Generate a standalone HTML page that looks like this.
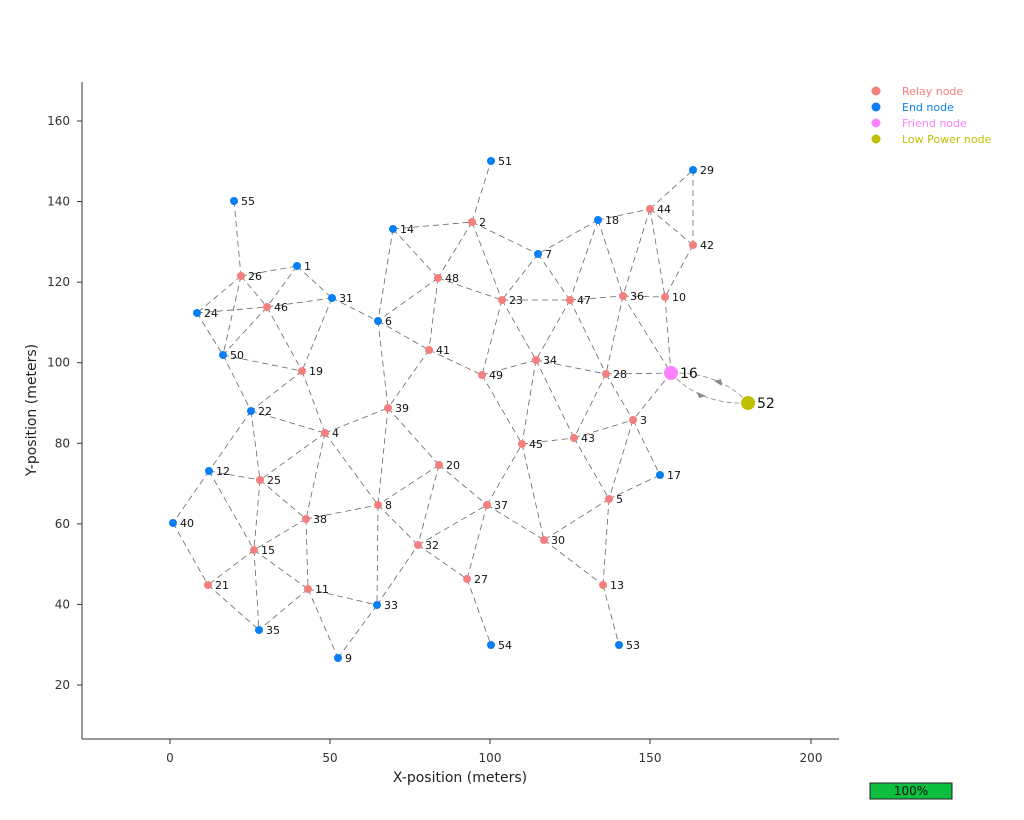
<!DOCTYPE html>
<html><head><meta charset="utf-8"><style>body{margin:0;background:#fff}svg{display:block}text{font-family:"DejaVu Sans","Liberation Sans",sans-serif}</style></head>
<body>
<svg id="s" width="1024" height="820" xmlns="http://www.w3.org/2000/svg">
<g stroke="#333" stroke-width="1" fill="none">
<line x1="82" y1="82" x2="82" y2="739"/><line x1="82" y1="739" x2="839" y2="739"/>
</g>
<g id="ticks" stroke="#333"></g>
<g id="tl" font-size="12" fill="#333"></g>
<text x="460" y="782" font-size="14" text-anchor="middle" fill="#222">X-position (meters)</text>
<text transform="translate(36,410) rotate(-90)" font-size="14" text-anchor="middle" fill="#222">Y-position (meters)</text>
<g id="edges" stroke="#666" stroke-width="0.8" stroke-dasharray="6,4" fill="none"></g>
<g stroke="#888" stroke-width="0.8" stroke-dasharray="5,3" fill="none">
<path d="M671,373 Q700,405 748,403"/><path d="M748,403 Q720,372 671,373"/>
</g>
<polygon points="706,396 697,392 699,398" fill="#888"/><polygon points="714,381 722,386 721,379" fill="#888"/>
<g id="nodes"></g>
<g font-size="11">
<circle cx="876" cy="91" r="4.5" fill="#f47f7f"/><text x="902" y="95" fill="#f47f7f">Relay node</text>
<circle cx="876" cy="107" r="4.5" fill="#0a7ff5"/><text x="902" y="111" fill="#0a7ff5">End node</text>
<circle cx="876" cy="123" r="4.5" fill="#ff80ff"/><text x="902" y="127" fill="#ff80ff">Friend node</text>
<circle cx="876" cy="139" r="4.5" fill="#bfbf00"/><text x="902" y="143" fill="#bfbf00">Low Power node</text>
</g>
<rect x="870" y="783" width="82" height="16" fill="#0dbf3f" stroke="#222"/>
<text x="911" y="795" font-size="12" text-anchor="middle" fill="#111">100%</text>
</svg>
<script>
const N={55:[234,201,'b'],1:[297,266,'b'],26:[241,276,'r'],46:[267,307,'r'],31:[332,298,'b'],24:[197,313,'b'],50:[223,355,'b'],19:[302,371,'r'],6:[378,321,'b'],14:[393,229,'b'],2:[472,222,'r'],51:[491,161,'b'],48:[438,278,'r'],41:[429,350,'r'],23:[502,300,'r'],7:[538,254,'b'],18:[598,220,'b'],44:[650,209,'r'],29:[693,170,'b'],42:[693,245,'r'],47:[570,300,'r'],36:[623,296,'r'],10:[665,297,'r'],49:[482,375,'r'],34:[536,360,'r'],28:[606,374,'r'],16:[671,373,'f'],52:[748,403,'l'],22:[251,411,'b'],4:[325,433,'r'],39:[388,408,'r'],3:[633,420,'r'],43:[574,438,'r'],45:[522,444,'r'],17:[660,475,'b'],12:[209,471,'b'],25:[260,480,'r'],20:[439,465,'r'],5:[609,499,'r'],40:[173,523,'b'],38:[306,519,'r'],8:[378,505,'r'],37:[487,505,'r'],30:[544,540,'r'],15:[254,550,'r'],32:[418,545,'r'],27:[467,579,'r'],13:[603,585,'r'],21:[208,585,'r'],11:[308,589,'r'],33:[377,605,'b'],35:[259,630,'b'],54:[491,645,'b'],53:[619,645,'b'],9:[338,658,'b']};
const E="55-26 26-1 26-24 26-50 26-46 1-46 1-31 24-46 24-50 46-31 46-50 46-19 31-19 31-6 50-19 50-22 19-22 19-4 14-2 14-6 14-48 2-51 2-48 2-7 2-23 48-6 48-23 48-41 6-41 6-39 41-39 41-49 18-7 18-44 18-47 18-36 44-29 44-36 44-10 44-42 29-42 42-10 7-23 7-47 23-47 47-36 36-10 23-49 23-34 47-34 47-28 36-28 36-16 10-16 49-34 34-28 28-16 49-45 34-45 34-43 28-43 28-3 16-3 22-4 22-12 22-25 4-39 4-25 4-38 4-8 39-8 39-20 20-8 20-32 20-37 12-25 12-40 12-15 25-38 25-15 38-8 38-15 38-11 8-32 8-33 15-21 15-35 15-11 40-21 21-35 11-35 11-33 11-9 33-9 33-32 32-37 32-27 37-27 37-30 37-45 45-43 45-30 43-5 43-3 3-5 5-30 5-13 30-13 13-53 27-54 3-17 5-17".split(' ');
const ns="http://www.w3.org/2000/svg";
function el(p,t,a,txt){const e=document.createElementNS(ns,t);for(const k in a)e.setAttribute(k,a[k]);if(txt!=null)e.textContent=txt;document.getElementById(p).appendChild(e);}
E.forEach(s=>{const [a,b]=s.split('-');el('edges','line',{x1:N[a][0],y1:N[a][1],x2:N[b][0],y2:N[b][1]});});
const C={r:'#f47f7f',b:'#0a7ff5',f:'#ff80ff',l:'#bfbf00'};
for(const k in N){const [x,y,t]=N[k];const big=t=='f'||t=='l';
el('nodes','circle',{cx:x,cy:y,r:big?7:4,fill:C[t]});
el('nodes','text',{x:x+(big?9:7),y:y+(big?5:4),'font-size':big?14:11,fill:'#111'},k);}
[[0,170],[50,330],[100,490],[150,650],[200,811]].forEach(([v,x])=>{el('ticks','line',{x1:x,y1:739,x2:x,y2:744});el('tl','text',{x:x,y:762,'text-anchor':'middle'},v);});
[20,40,60,80,100,120,140,160].forEach(v=>{const y=121+(160-v)*4.0286;el('ticks','line',{x1:77,y1:y,x2:82,y2:y});el('tl','text',{x:70,y:y+4,'text-anchor':'end'},v);});
</script>
</body></html>
